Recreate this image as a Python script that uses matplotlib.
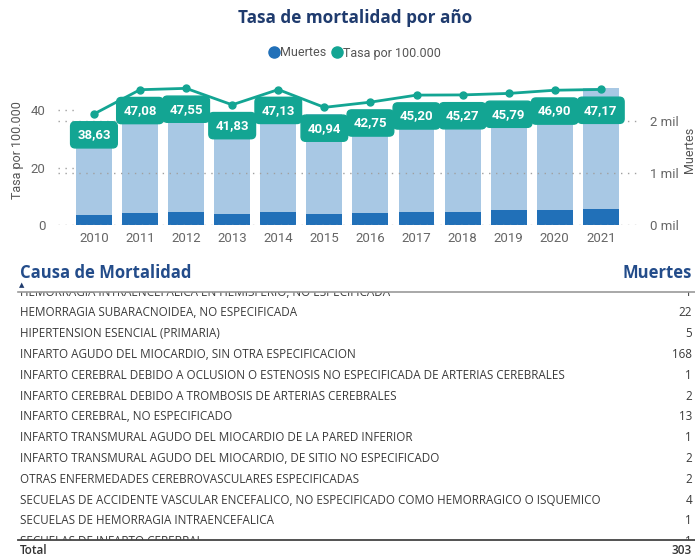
import numpy as np
import matplotlib.pyplot as plt
from matplotlib.lines import Line2D

# Datos del gráfico
anios = ['2010', '2011', '2012', '2013', '2014', '2015', '2016', '2017', '2018', '2019', '2020', '2021']
tasa = [38.63, 47.08, 47.55, 41.83, 47.13, 40.94, 42.75, 45.20, 45.27, 45.79, 46.90, 47.17]
muertes_total = [1620, 2030, 2050, 1800, 2030, 2140, 2100, 2200, 2200, 2250, 2300, 2650]
muertes_filtro = [190, 230, 245, 210, 260, 220, 240, 260, 260, 280, 290, 310]

# Datos de la tabla (primera y última fila cortadas por el scroll)
causas = [
    'HEMORRAGIA INTRAENCEFALICA EN HEMISFERIO, NO ESPECIFICADA',
    'HEMORRAGIA SUBARACNOIDEA, NO ESPECIFICADA',
    'HIPERTENSION ESENCIAL (PRIMARIA)',
    'INFARTO AGUDO DEL MIOCARDIO, SIN OTRA ESPECIFICACION',
    'INFARTO CEREBRAL DEBIDO A OCLUSION O ESTENOSIS NO ESPECIFICADA DE ARTERIAS CEREBRALES',
    'INFARTO CEREBRAL DEBIDO A TROMBOSIS DE ARTERIAS CEREBRALES',
    'INFARTO CEREBRAL, NO ESPECIFICADO',
    'INFARTO TRANSMURAL AGUDO DEL MIOCARDIO DE LA PARED INFERIOR',
    'INFARTO TRANSMURAL AGUDO DEL MIOCARDIO, DE SITIO NO ESPECIFICADO',
    'OTRAS ENFERMEDADES CEREBROVASCULARES ESPECIFICADAS',
    'SECUELAS DE ACCIDENTE VASCULAR ENCEFALICO, NO ESPECIFICADO COMO HEMORRAGICO O ISQUEMICO',
    'SECUELAS DE HEMORRAGIA INTRAENCEFALICA',
    'SECUELAS DE INFARTO CEREBRAL',
]
muertes_causa = [1, 22, 5, 168, 1, 2, 13, 1, 2, 2, 4, 1, 1]
total_muertes = 303

W, H = 695, 557
AZUL_CLARO = '#A8C8E4'
AZUL = '#2170B8'
VERDE = '#13A593'
TITULO = '#1F3B6E'
GRIS = '#666666'
NARROW = ['Roboto', 'DejaVu Sans']
SANS = ['Open Sans', 'DejaVu Sans']


def fx(px):
    return px / W


def fy(py):
    return 1 - py / H


fig = plt.figure(figsize=(W / 100, H / 100), dpi=100)

# --- gráfico combinado ---
ax_bar = fig.add_axes([fx(58), fy(225), fx(640) - fx(58), fy(75) - fy(225)])
ax_line = ax_bar.twinx()

x = np.arange(len(anios))
ax_bar.bar(x, muertes_total, width=0.78, color=AZUL_CLARO, zorder=1)
ax_bar.bar(x, muertes_filtro, width=0.78, color=AZUL, zorder=2)
for v in (0, 1000, 2000):
    ax_bar.axhline(v, color='#A0A0A0', lw=1, ls=(0, (1, 4)), zorder=3)
ax_bar.set_xlim(-0.78, 11.85)
ax_bar.set_ylim(0, 2896)
ax_bar.set_yticks([0, 1000, 2000])
ax_bar.set_yticklabels([f'{v // 1000} mil' for v in (0, 1000, 2000)])
ax_bar.yaxis.tick_right()
ax_bar.set_xticks(x)
ax_bar.set_xticklabels(anios)

ax_line.plot(x, tasa, color=VERDE, lw=2, marker='o', ms=5, zorder=4)
ax_line.set_ylim(0, 52.2)
ax_line.set_yticks([0, 20, 40])
ax_line.yaxis.tick_left()
for v in (20, 40):
    ax_line.axhline(v, xmin=0, xmax=0.03, color='#A0A0A0', lw=1, ls=(0, (1, 4)))

for i, v in enumerate(tasa):
    ax_line.annotate(f'{v:.2f}'.replace('.', ','), (x[i], v), xytext=(0, -15),
                     textcoords='offset points', ha='center', va='center',
                     color='white', fontweight='bold', fontsize=9.5, family=NARROW,
                     bbox=dict(boxstyle='round,pad=0.5,rounding_size=0.35', fc=VERDE, ec=VERDE),
                     zorder=6)

for a in (ax_bar, ax_line):
    for s in a.spines.values():
        s.set_visible(False)
    a.tick_params(length=0, colors=GRIS, labelsize=9.5)
    for t in a.get_xticklabels() + a.get_yticklabels():
        t.set_family(NARROW)
ax_bar.tick_params(axis='x', pad=5)
ax_bar.tick_params(axis='y', pad=7)
ax_line.tick_params(axis='y', pad=9)

fig.text(fx(18), fy(150), 'Tasa por 100.000', rotation=90, ha='center', va='center',
         color='#555555', fontsize=9, family=NARROW)
fig.text(fx(689), fy(150), 'Muertes', rotation=90, ha='center', va='center',
         color='#555555', fontsize=9, family=NARROW)

fig.text(fx(355), fy(18), 'Tasa de mortalidad por año', ha='center', va='center',
         color=TITULO, fontsize=12.3, fontweight='bold', family=SANS)

handles = [Line2D([], [], ls='', marker='o', ms=8, color=AZUL),
           Line2D([], [], ls='', marker='o', ms=8, color=VERDE)]
fig.legend(handles, ['Muertes', 'Tasa por 100.000'], loc='center',
           bbox_to_anchor=(fx(355), fy(53)), ncol=2, frameon=False,
           handlelength=0.8, handletextpad=0.1, columnspacing=0.4,
           labelcolor='#555555', prop={'family': NARROW, 'size': 9})

# --- tabla ---
fig.text(fx(20), fy(273), 'Causa de Mortalidad', ha='left', va='center',
         color='#234C8A', fontsize=12, fontweight='bold', family=SANS)
fig.text(fx(692), fy(273), 'Muertes', ha='right', va='center',
         color='#234C8A', fontsize=12, fontweight='bold', family=SANS)
fig.text(fx(22), fy(285), '\u25B2', ha='center', va='center', color=TITULO, fontsize=5)

ax_tab = fig.add_axes([0, fy(540), 1, fy(292) - fy(540)])
ax_tab.set_xlim(0, W)
ax_tab.set_ylim(540, 292)
ax_tab.axis('off')
for k, (causa, n) in enumerate(zip(causas, muertes_causa)):
    yy = 292.2 + 20.8 * k
    ax_tab.text(20, yy, causa, ha='left', va='center', color='#3A3A3A',
                fontsize=8.4, family=SANS, clip_on=True)
    ax_tab.text(692, yy, str(n), ha='right', va='center', color='#3A3A3A',
                fontsize=8.4, family=SANS, clip_on=True)

fig.add_artist(Line2D([fx(18), 1], [fy(292), fy(292)], color='#9A9A9A', lw=1.2))
fig.add_artist(Line2D([fx(18), 1], [fy(540), fy(540)], color='#444444', lw=1.3))
fig.text(fx(20), fy(550), 'Total', ha='left', va='center', color='#333333',
         fontsize=8.5, fontweight='semibold', family=SANS)
fig.text(fx(692), fy(550), str(total_muertes), ha='right', va='center', color='#333333',
         fontsize=8.5, fontweight='semibold', family=SANS)

fig.savefig('out.png', dpi=100)
